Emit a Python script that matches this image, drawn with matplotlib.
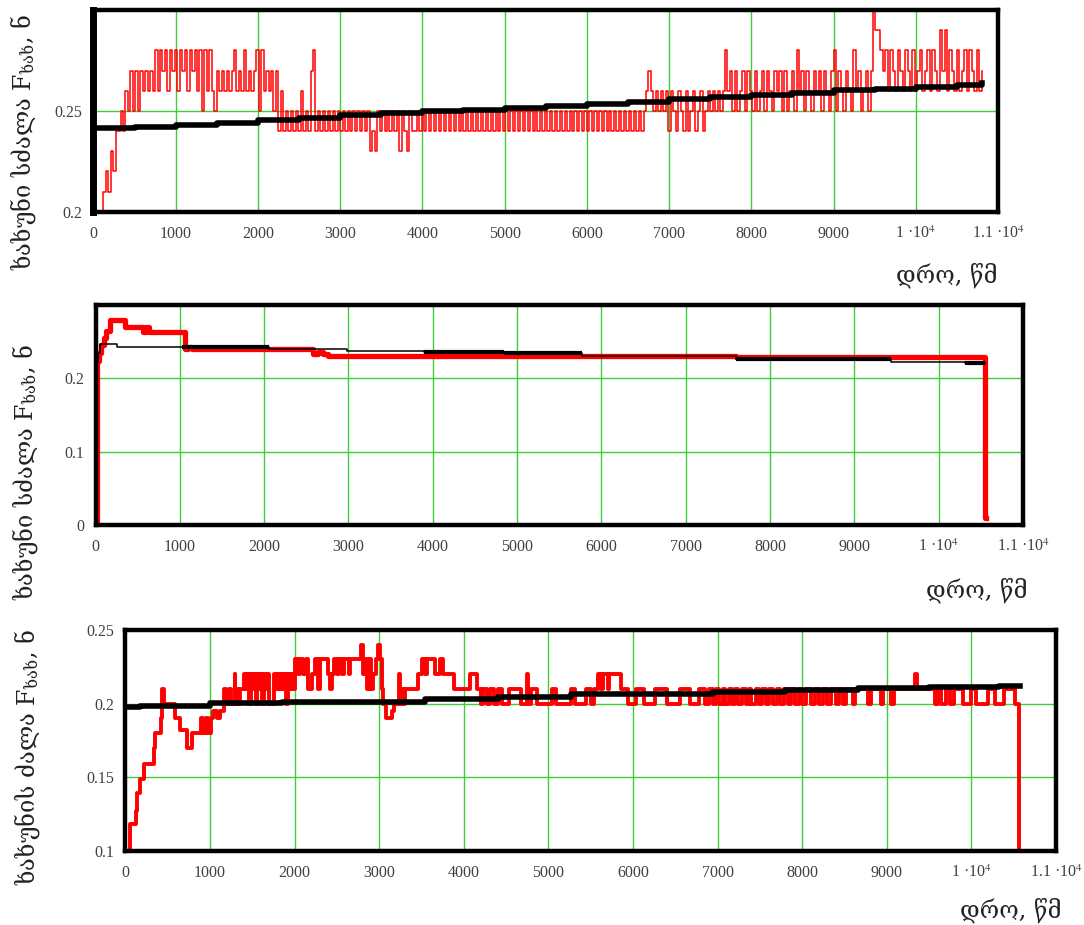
import numpy as np
import matplotlib
matplotlib.use("Agg")
import matplotlib.pyplot as plt

# ---------------- data ----------------
# panel 1 : red measured force, sampled every 30 s, in hundredths of N
red1_dt = 30
red1_cents = [
    20, 20, 20, 20, 21, 22, 21, 23, 22, 24,
    24, 25, 24, 26, 25, 27, 25, 27, 25, 27,
    26, 27, 26, 27, 26, 28, 26, 28, 27, 28,
    26, 28, 27, 28, 26, 28, 27, 28, 26, 28,
    27, 28, 26, 28, 25, 28, 26, 28, 26, 25,
    27, 26, 27, 26, 27, 26, 27, 28, 26, 27,
    26, 28, 26, 27, 26, 27, 28, 25, 28, 26,
    27, 26, 27, 25, 27, 24, 26, 24, 25, 24,
    25, 24, 25, 24, 26, 24, 25, 24, 27, 28,
    24, 25, 24, 25, 24, 25, 24, 25, 24, 25,
    24, 25, 24, 25, 24, 25, 24, 25, 24, 25,
    24, 25, 23, 24, 23, 25, 24, 25, 24, 25,
    24, 25, 24, 25, 23, 25, 24, 23, 25, 24,
    24, 25, 24, 25, 24, 25, 24, 25, 24, 25,
    24, 25, 24, 25, 24, 25, 24, 25, 24, 25,
    24, 25, 24, 25, 24, 25, 24, 25, 24, 25,
    24, 25, 24, 25, 24, 25, 24, 25, 24, 25,
    24, 25, 24, 25, 24, 25, 24, 25, 24, 25,
    24, 25, 24, 25, 24, 25, 24, 25, 24, 25,
    24, 25, 24, 25, 24, 25, 24, 25, 24, 25,
    24, 25, 24, 25, 24, 25, 24, 25, 24, 25,
    24, 25, 24, 25, 24, 25, 24, 25, 24, 25,
    24, 25, 24, 25, 26, 27, 26, 25, 26, 25,
    26, 25, 26, 24, 26, 25, 24, 26, 25, 24,
    26, 24, 25, 26, 24, 25, 26, 24, 25, 26,
    25, 26, 25, 26, 25, 26, 28, 26, 27, 25,
    27, 25, 26, 27, 25, 27, 26, 25, 27, 25,
    26, 27, 25, 27, 26, 25, 27, 26, 27, 25,
    27, 25, 26, 27, 25, 28, 26, 27, 25, 27,
    26, 25, 27, 26, 27, 25, 27, 26, 25, 27,
    28, 25, 27, 26, 25, 27, 26, 25, 28, 26,
    27, 25, 26, 27, 25, 27, 30, 29, 29, 28,
    27, 28, 26, 28, 27, 26, 28, 27, 26, 28,
    27, 26, 28, 26, 27, 28, 26, 27, 28, 26,
    28, 27, 26, 29, 27, 29, 26, 28, 27, 26,
    28, 26, 27, 28, 26, 28, 27, 26, 28, 26,
    27,
]
# panel 1 : black model line
black1_t = [0, 500, 1000, 1500, 2000, 2500, 3000, 3500, 4000, 4500, 5000, 5500,
            6000, 6500, 7000, 7500, 8000, 8500, 9000, 9500, 10000, 10500, 10800]
black1_v = [0.2415, 0.2422, 0.2428, 0.2442, 0.2456, 0.2467, 0.2477, 0.2488, 0.2498,
            0.2506, 0.2514, 0.2522, 0.2532, 0.2545, 0.2558, 0.2568, 0.2578, 0.2590,
            0.2602, 0.2610, 0.2619, 0.2628, 0.2638]

# panel 2
red2_t = [0, 15, 40, 70, 100, 130, 172, 350, 567, 600, 640, 680, 1062, 1100, 1140,
          2585, 2640, 2700, 2760, 5766, 7598, 10549, 10560]
red2_v = [0.0, 0.224, 0.235, 0.245, 0.255, 0.265, 0.279, 0.270, 0.263, 0.270, 0.263,
          0.263, 0.240, 0.243, 0.240, 0.233, 0.236, 0.233, 0.231, 0.230, 0.229,
          0.009, 0.009]
black2_t = [0, 30, 53, 251, 1022, 2060, 2985, 3900, 4850, 5766, 7598, 9430, 10315, 10549]
black2_v = [0.222, 0.235, 0.247, 0.243, 0.2423, 0.240, 0.2368, 0.2355, 0.2346, 0.231,
            0.2265, 0.2228, 0.2205, 0.2205]
black2_thick = [0, 0, 0, 0, 1, 0, 0, 1, 1, 0, 1, 0, 1]

# panel 3
red3_points = [
    (0, 0.100), (50, 0.109), (60, 0.118), (120, 0.127), (140, 0.139), (170, 0.149),
    (215, 0.159), (335, 0.170), (355, 0.180), (415, 0.190), (435, 0.210), (460, 0.200),
    (590, 0.190), (650, 0.182), (730, 0.170), (790, 0.180), (890, 0.190), (920, 0.180),
    (950, 0.190), (980, 0.180), (1010, 0.190), (1040, 0.195), (1080, 0.190), (1120, 0.195),
    (1160, 0.210), (1190, 0.200), (1220, 0.210), (1250, 0.200), (1290, 0.220), (1300, 0.210),
    (1330, 0.200), (1360, 0.210),
    (1400, 0.22), (1420, 0.21), (1440, 0.22), (1460, 0.20), (1480, 0.22), (1500, 0.21),
    (1520, 0.22), (1540, 0.20), (1560, 0.22), (1580, 0.21), (1600, 0.22), (1620, 0.20),
    (1640, 0.22), (1660, 0.21), (1680, 0.22), (1700, 0.20), (1760, 0.22), (1780, 0.21),
    (1800, 0.22), (1820, 0.21), (1840, 0.22), (1860, 0.21), (1880, 0.22), (1900, 0.20),
    (1920, 0.22), (1940, 0.21), (1960, 0.22), (1980, 0.21),
    (2000, 0.23), (2040, 0.22), (2060, 0.23), (2100, 0.22), (2130, 0.23), (2160, 0.21),
    (2200, 0.22), (2240, 0.23), (2280, 0.21), (2300, 0.23), (2390, 0.22), (2420, 0.21),
    (2440, 0.22), (2470, 0.23), (2500, 0.22), (2520, 0.23), (2560, 0.22), (2580, 0.23),
    (2640, 0.22), (2660, 0.23), (2790, 0.24), (2810, 0.22), (2830, 0.23), (2850, 0.21),
    (2880, 0.23), (2900, 0.21), (2930, 0.22), (2960, 0.23), (2990, 0.24), (3010, 0.23),
    (3030, 0.21), (3050, 0.20), (3080, 0.19), (3150, 0.195), (3170, 0.20), (3230, 0.22),
    (3240, 0.20), (3260, 0.21), (3280, 0.20), (3300, 0.21), (3460, 0.22), (3500, 0.23),
    (3540, 0.22), (3560, 0.23), (3660, 0.22), (3720, 0.23), (3760, 0.22), (3880, 0.21),
    (4070, 0.22), (4160, 0.21), (4200, 0.20), (4230, 0.21), (4280, 0.20), (4310, 0.21),
    (4360, 0.20), (4400, 0.21), (4450, 0.20), (4540, 0.21), (4680, 0.20), (4747, 0.22),
    (4760, 0.20), (4790, 0.21), (4860, 0.20), (5040, 0.21), (5086, 0.20), (5267, 0.21),
    (5312, 0.20), (5448, 0.21), (5500, 0.20), (5540, 0.21), (5584, 0.22), (5620, 0.21),
    (5650, 0.22), (5700, 0.21), (5720, 0.22), (5855, 0.21), (5946, 0.20), (6036, 0.21),
    (6127, 0.20), (6262, 0.21), (6398, 0.20), (6556, 0.21), (6669, 0.20), (6782, 0.21),
    (6850, 0.20), (6900, 0.21),
    (6940, 0.20), (6980, 0.21), (7020, 0.20), (7060, 0.21), (7090, 0.20), (7130, 0.21),
    (7170, 0.20), (7210, 0.21), (7240, 0.20), (7290, 0.21), (7330, 0.20), (7370, 0.21),
    (7400, 0.20), (7450, 0.21), (7490, 0.20), (7530, 0.21), (7570, 0.20), (7610, 0.21),
    (7650, 0.20), (7700, 0.21), (7740, 0.20), (7780, 0.21), (7830, 0.20), (7870, 0.21),
    (7910, 0.20), (7960, 0.21), (8000, 0.20), (8050, 0.21), (8100, 0.20), (8150, 0.21),
    (8200, 0.20), (8240, 0.21), (8290, 0.20), (8340, 0.21), (8400, 0.20), (8440, 0.21),
    (8480, 0.20), (8520, 0.21), (8600, 0.20), (8630, 0.21), (8780, 0.20), (8810, 0.21),
    (8930, 0.20), (8960, 0.21), (9050, 0.20), (9080, 0.21), (9338, 0.22), (9360, 0.21),
    (9564, 0.20), (9600, 0.21), (9640, 0.20), (9700, 0.21), (9750, 0.20), (9800, 0.21),
    (9900, 0.20), (10000, 0.21), (10050, 0.20), (10200, 0.21), (10280, 0.20), (10380, 0.21),
    (10514, 0.20), (10559, 0.10), (10570, 0.10),
]
black3_t = [0, 170, 1000, 1850, 2714, 3541, 4400, 5270, 6940, 7800, 8660, 9500, 10330, 10580]
black3_v = [0.1975, 0.1985, 0.2003, 0.2010, 0.2008, 0.2033, 0.2045, 0.2068, 0.2079,
            0.2090, 0.2106, 0.2113, 0.2120, 0.2120]

x_ticks = [0, 1000, 2000, 3000, 4000, 5000, 6000, 7000, 8000, 9000, 10000, 11000]
x_labels = ["0", "1000", "2000", "3000", "4000", "5000", "6000", "7000", "8000",
            "9000", "1 ·10$^{4}$", "1.1 ·10$^{4}$"]
y1_ticks, y1_labels = [0.2, 0.25], ["0.2", "0.25"]
y2_ticks, y2_labels = [0, 0.1, 0.2], ["0", "0.1", "0.2"]
y3_ticks, y3_labels = [0.1, 0.15, 0.2, 0.25], ["0.1", "0.15", "0.2", "0.25"]

ylabel_12 = "ხახუნი სძალა F$_{\\mathregular{ხახ}}$, ნ"
ylabel_3 = "ხახუნის ძალა F$_{\\mathregular{ხახ}}$, ნ"
xlabel = "დრო, წმ"

# ---------------- style ----------------
plt.rcParams["font.family"] = ["Liberation Serif", "DejaVu Serif"]
plt.rcParams["mathtext.fontset"] = "stix"

W, H = 1084, 925
fig = plt.figure(figsize=(W / 100, H / 100), dpi=100)
GRID = "#3ccf3c"
TICKC = "#404040"
LBLFONT = ["DejaVu Serif", "DejaVu Sans"]


def frac_axes(l, t, r, b):
    return fig.add_axes([l / W, 1 - b / H, (r - l) / W, (b - t) / H])


def style(ax, ylim, yt, yl, spine_w=3.2):
    ax.set_xlim(0, 11000)
    ax.set_ylim(*ylim)
    ax.set_xticks(x_ticks)
    ax.set_xticklabels(x_labels)
    ax.set_yticks(yt)
    ax.set_yticklabels(yl)
    ax.tick_params(length=0, labelsize=11.5, colors=TICKC)
    ax.tick_params(axis="x", pad=10)
    ax.tick_params(axis="y", pad=8)
    ax.grid(True, color=GRID, lw=1.0)
    ax.set_axisbelow(True)
    for s in ax.spines.values():
        s.set_linewidth(spine_w)
        s.set_color("black")
        s.set_zorder(5)


# ---- panel 1
ax1 = frac_axes(93.4, 10, 998, 211.7)
style(ax1, (0.2, 0.3), y1_ticks, y1_labels)
ax1.spines["left"].set_linewidth(5)
t1 = np.arange(len(red1_cents)) * red1_dt
ax1.step(t1, np.array(red1_cents) / 100.0, where="post", color="#ff0000", lw=1.1, zorder=3)
ax1.step(black1_t, black1_v, where="post", color="black", lw=4.0, zorder=4)

# ---- panel 2
ax2 = frac_axes(95.5, 305, 1023, 525)
style(ax2, (0, 0.3), y2_ticks, y2_labels)
ax2.step(red2_t, red2_v, where="post", color="#ff0000", lw=3.8, zorder=3)
ax2.step(black2_t, black2_v, where="post", color="black", lw=1.1, zorder=4)
for i, thick in enumerate(black2_thick):
    if thick:
        ax2.hlines(black2_v[i], black2_t[i], black2_t[i + 1], color="black", lw=3.0, zorder=4)

# ---- panel 3
ax3 = frac_axes(125.4, 629.8, 1056, 851)
style(ax3, (0.1, 0.25), y3_ticks, y3_labels)
r3t = [p[0] for p in red3_points]
r3v = [p[1] for p in red3_points]
ax3.step(r3t, r3v, where="post", color="#ff0000", lw=2.8, zorder=3)
ax3.step(black3_t, black3_v, where="post", color="black", lw=4.0, zorder=4)

# ---- labels
for (xc, yc, txt) in [(23, 142, ylabel_12), (25, 472, ylabel_12), (27.5, 757, ylabel_3)]:
    fig.text(xc / W, 1 - yc / H, txt, rotation=90, ha="center", va="center",
             fontsize=17, family=LBLFONT, color="#222222")
for (xr, yc) in [(998, 275), (1027, 590), (1062, 910)]:
    fig.text(xr / W, 1 - yc / H, xlabel, ha="right", va="center",
             fontsize=17, family=LBLFONT, color="#222222")

fig.savefig("out.png", dpi=100)
